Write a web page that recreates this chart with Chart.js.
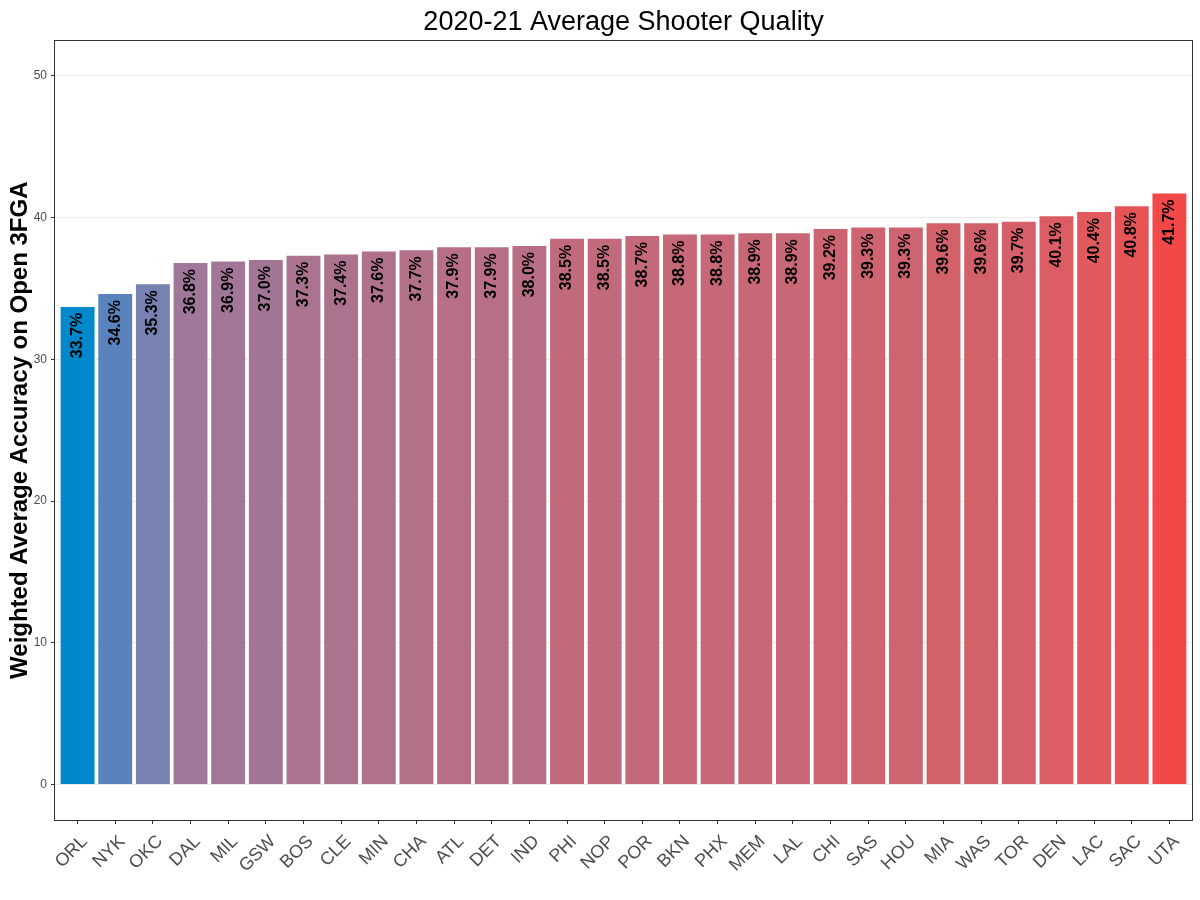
<!DOCTYPE html>
<html>
<head>
<meta charset="utf-8">
<title>2020-21 Average Shooter Quality</title>
<script src="https://cdn.jsdelivr.net/npm/chart.js@4.4.1/dist/chart.umd.min.js"></script>
<style>
  html, body { margin: 0; padding: 0; background: #fff; }
  #chart { display: block; }
</style>
</head>
<body>
<canvas id="chart" width="1200" height="900"></canvas>
<script>
const teams = ['ORL','NYK','OKC','DAL','MIL','GSW','BOS','CLE','MIN','CHA',
               'ATL','DET','IND','PHI','NOP','POR','BKN','PHX','MEM','LAL',
               'CHI','SAS','HOU','MIA','WAS','TOR','DEN','LAC','SAC','UTA'];
const accuracy = [33.7, 34.6, 35.3, 36.8, 36.9, 37.0, 37.3, 37.4, 37.6, 37.7,
                  37.9, 37.9, 38.0, 38.5, 38.5, 38.7, 38.8, 38.8, 38.9, 38.9,
                  39.2, 39.3, 39.3, 39.6, 39.6, 39.7, 40.1, 40.4, 40.8, 41.7];
const yTicks = [0, 10, 20, 30, 40, 50];

const FONT = '"Liberation Sans", Arial, sans-serif';
const LOW = '#0088CC', HIGH = '#F24848';

// --- colour gradient in Lab space (like ggplot's scale_fill_gradient) ---
function hexToRgb(h){ return [1,3,5].map(i => parseInt(h.slice(i, i+2), 16)); }
function toLin(c){ c /= 255; return c <= 0.04045 ? c/12.92 : Math.pow((c+0.055)/1.055, 2.4); }
function fromLin(c){ c = c <= 0.0031308 ? 12.92*c : 1.055*Math.pow(c, 1/2.4) - 0.055; return Math.round(Math.min(1, Math.max(0, c))*255); }
const WX = 0.95047, WY = 1, WZ = 1.08883;
function rgbToLab(rgb){
  const [r,g,b] = rgb.map(toLin);
  const x = (0.4124*r + 0.3576*g + 0.1805*b)/WX;
  const y = (0.2126*r + 0.7152*g + 0.0722*b)/WY;
  const z = (0.0193*r + 0.1192*g + 0.9505*b)/WZ;
  const f = t => t > 0.008856 ? Math.cbrt(t) : 7.787*t + 16/116;
  const fx = f(x), fy = f(y), fz = f(z);
  return [116*fy - 16, 500*(fx - fy), 200*(fy - fz)];
}
function labToRgb(lab){
  const fy = (lab[0] + 16)/116, fx = fy + lab[1]/500, fz = fy - lab[2]/200;
  const inv = t => t*t*t > 0.008856 ? t*t*t : (t - 16/116)/7.787;
  const x = inv(fx)*WX, y = inv(fy)*WY, z = inv(fz)*WZ;
  const r =  3.2406*x - 1.5372*y - 0.4986*z;
  const g = -0.9689*x + 1.8758*y + 0.0415*z;
  const b =  0.0557*x - 0.2040*y + 1.0570*z;
  return [r,g,b].map(fromLin);
}
const labLow = rgbToLab(hexToRgb(LOW)), labHigh = rgbToLab(hexToRgb(HIGH));
const vMin = Math.min(...accuracy), vMax = Math.max(...accuracy);
function fillFor(v){
  const t = (v - vMin)/(vMax - vMin);
  const lab = labLow.map((c, i) => c + (labHigh[i] - c)*t);
  const [r,g,b] = labToRgb(lab);
  return `rgb(${r},${g},${b})`;
}

// value labels inside the bars, rotated
const barLabels = {
  id: 'barLabels',
  afterDatasetsDraw(chart){
    const ctx = chart.ctx;
    const meta = chart.getDatasetMeta(0);
    ctx.save();
    ctx.fillStyle = '#000';
    ctx.font = `bold 16px ${FONT}`;
    ctx.textAlign = 'right';
    ctx.textBaseline = 'middle';
    meta.data.forEach((bar, i) => {
      ctx.save();
      ctx.translate(bar.x, bar.y + 6);
      ctx.rotate(-Math.PI/2);
      ctx.fillText(accuracy[i].toFixed(1) + '%', 0, 0);
      ctx.restore();
    });
    ctx.restore();
  }
};

// panel border
const panelBorder = {
  id: 'panelBorder',
  afterDraw(chart){
    const {ctx, chartArea: a} = chart;
    ctx.save();
    ctx.strokeStyle = '#333333';
    ctx.lineWidth = 1;
    ctx.strokeRect(Math.round(a.left) - 0.5, Math.round(a.top) + 0.5,
                   Math.round(a.right - a.left) + 1, Math.round(a.bottom - a.top));
    ctx.restore();
  }
};

new Chart(document.getElementById('chart').getContext('2d'), {
  type: 'bar',
  data: {
    datasets: [{
      data: accuracy.map((v, i) => ({x: i + 1, y: v})),
      backgroundColor: accuracy.map(fillFor),
      borderWidth: 0,
      categoryPercentage: 1,
      barPercentage: 0.9
    }]
  },
  options: {
    responsive: false,
    animation: false,
    devicePixelRatio: 1,
    layout: { padding: { left: 0, right: 8, top: 0, bottom: 0 } },
    plugins: {
      legend: { display: false },
      tooltip: { enabled: false },
      title: {
        display: true,
        text: '2020-21 Average Shooter Quality',
        color: '#000',
        fullSize: false,
        font: { family: FONT, size: 27, weight: 'normal' },
        padding: { top: 6, bottom: 2 }
      }
    },
    scales: {
      x: {
        type: 'linear',
        offset: false,
        min: 0.4,
        max: 30.6,
        afterBuildTicks: s => { s.ticks = teams.map((t, i) => ({value: i + 1})); },
        afterFit: s => { s.height = 80; },
        grid: { offset: false, drawOnChartArea: false, drawTicks: true, tickLength: 4, tickColor: '#333333' },
        border: { display: false },
        ticks: {
          autoSkip: false,
          minRotation: 45,
          maxRotation: 45,
          padding: 7,
          labelOffset: 7,
          color: '#4D4D4D',
          font: { family: FONT, size: 18 },
          callback: v => teams[v - 1]
        }
      },
      y: {
        min: -2.5,
        max: 52.5,
        afterBuildTicks: s => { s.ticks = yTicks.map(v => ({value: v})); },
        afterFit: s => { s.width = 55; },
        grid: { color: '#EBEBEB', lineWidth: 1, drawTicks: true, tickLength: 4, tickColor: '#333333' },
        border: { display: false },
        ticks: {
          padding: 4,
          color: '#4D4D4D',
          font: { family: FONT, size: 12 }
        },
        title: {
          display: true,
          text: 'Weighted Average Accuracy on Open 3FGA',
          color: '#000',
          font: { family: FONT, size: 24, weight: 'bold' },
          padding: { top: 6, bottom: 0 }
        }
      }
    }
  },
  plugins: [barLabels, panelBorder]
});
</script>
</body>
</html>
